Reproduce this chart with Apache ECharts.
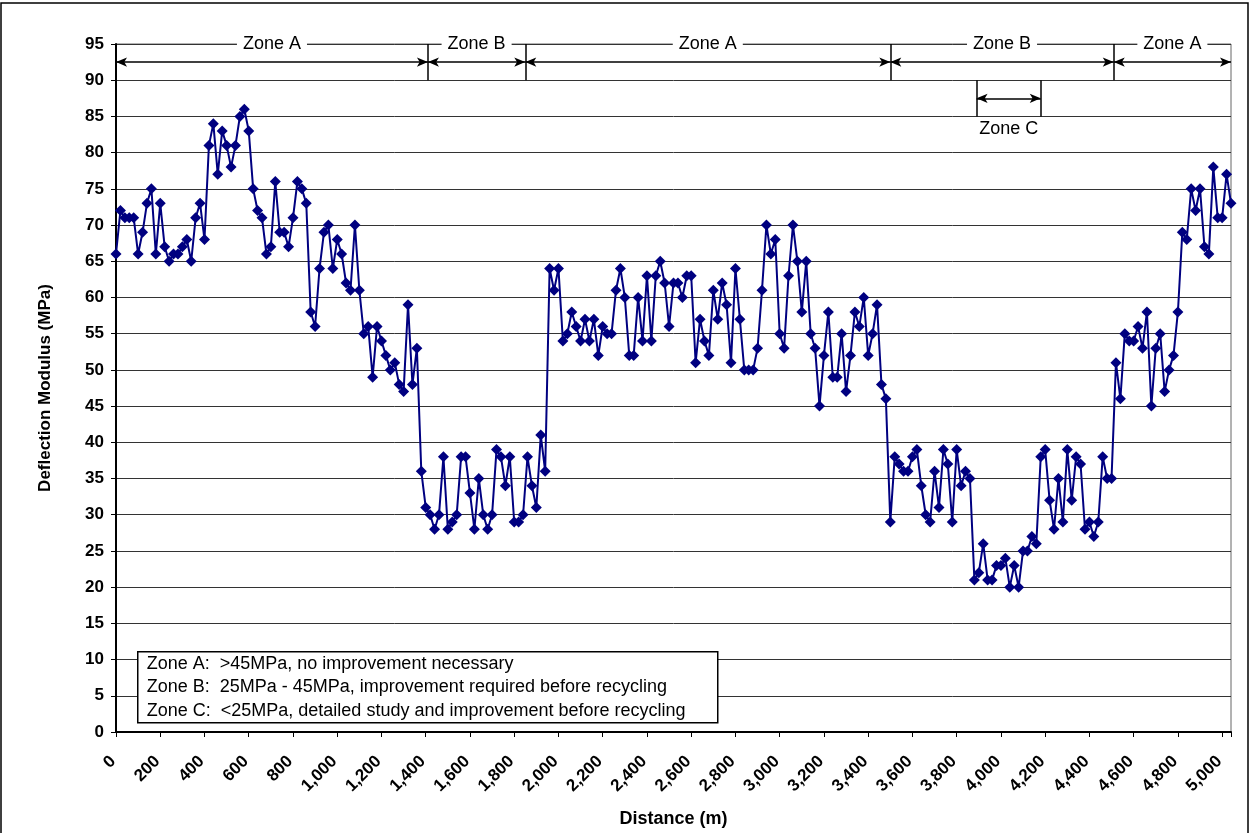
<!DOCTYPE html>
<html>
<head>
<meta charset="utf-8">
<script src="https://cdn.jsdelivr.net/npm/echarts@6/dist/echarts.min.js"></script>
<style>
  html, body { margin: 0; padding: 0; background: #fff; }
  #chart { width: 1250px; height: 833px; }
</style>
</head>
<body>
<div id="chart"></div>
<script>
// readings every 20 m along the road
const stepM = 20;
const modulus = [
  66, 72, 71, 71, 71, 66, 69, 73, 75, 66, 73, 67, 65, 66, 66, 67, 68, 65, 71, 73,
  68, 81, 84, 77, 83, 81, 78, 81, 85, 86, 83, 75, 72, 71, 66, 67, 76, 69, 69, 67,
  71, 76, 75, 73, 58, 56, 64, 69, 70, 64, 68, 66, 62, 61, 70, 61, 55, 56, 49, 56,
  54, 52, 50, 51, 48, 47, 59, 48, 53, 36, 31, 30, 28, 30, 38, 28, 29, 30, 38, 38,
  33, 28, 35, 30, 28, 30, 39, 38, 34, 38, 29, 29, 30, 38, 34, 31, 41, 36, 64, 61,
  64, 54, 55, 58, 56, 54, 57, 54, 57, 52, 56, 55, 55, 61, 64, 60, 52, 52, 60, 54,
  63, 54, 63, 65, 62, 56, 62, 62, 60, 63, 63, 51, 57, 54, 52, 61, 57, 62, 59, 51,
  64, 57, 50, 50, 50, 53, 61, 70, 66, 68, 55, 53, 63, 70, 65, 58, 65, 55, 53, 45,
  52, 58, 49, 49, 55, 47, 52, 58, 56, 60, 52, 55, 59, 48, 46, 29, 38, 37, 36, 36,
  38, 39, 34, 30, 29, 36, 31, 39, 37, 29, 39, 34, 36, 35, 21, 22, 26, 21, 21, 23,
  23, 24, 20, 23, 20, 25, 25, 27, 26, 38, 39, 32, 28, 35, 29, 39, 32, 38, 37, 28,
  29, 27, 29, 38, 35, 35, 51, 46, 55, 54, 54, 56, 53, 58, 45, 53, 55, 47, 50, 52,
  58, 69, 68, 75, 72, 75, 67, 66, 78, 71, 71, 77, 73
];

// zone brackets along the top of the plot
const zoneBounds = [0, 1410, 1850, 3500, 4510, 5040];
const zoneNames = ['Zone A', 'Zone B', 'Zone A', 'Zone B', 'Zone A'];
const zoneC = [3890, 4180];

const legendLines = [
  'Zone A:  >45MPa, no improvement necessary',
  'Zone B:  25MPa - 45MPa, improvement required before recycling',
  'Zone C:  <25MPa, detailed study and improvement before recycling'
];

const points = modulus.map((v, i) => [i * stepM, v]);

const noSym = c => ({ coord: c, symbol: 'none' });
const arrow = c => ({ coord: c, symbol: 'arrow' });

const bracketLines = [];
zoneBounds.slice(1, -1).forEach(b => bracketLines.push([noSym([b, 90]), noSym([b, 95])]));
for (let i = 0; i < zoneNames.length; i++) {
  bracketLines.push([arrow([zoneBounds[i], 92.5]), arrow([zoneBounds[i + 1], 92.5])]);
}
zoneC.forEach(b => bracketLines.push([noSym([b, 85]), noSym([b, 90])]));
bracketLines.push([arrow([zoneC[0], 87.5]), arrow([zoneC[1], 87.5])]);

const zoneLabels = zoneNames.map((n, i) => ({
  name: n,
  coord: [(zoneBounds[i] + zoneBounds[i + 1]) / 2, 95],
  label: { backgroundColor: '#fff', padding: [0, 6] }
}));
zoneLabels.push({ name: 'Zone C', coord: [(zoneC[0] + zoneC[1]) / 2, 83.3] });

const font = 'Liberation Sans, Arial, sans-serif';

const chart = echarts.init(document.getElementById('chart'));
chart.setOption({
  animation: false,
  grid: {
    left: 116, right: 19, top: 44, bottom: 98,
    show: true, borderColor: '#666', borderWidth: 1
  },
  xAxis: {
    type: 'value',
    min: 0, max: 5040, interval: 200,
    name: 'Distance (m)',
    nameLocation: 'middle',
    nameGap: 78,
    nameTextStyle: { fontFamily: font, fontWeight: 'bold', fontSize: 18, color: '#000' },
    axisLine: { lineStyle: { color: '#000', width: 2 } },
    axisTick: { length: 5, lineStyle: { color: '#000', width: 1 } },
    axisLabel: {
      rotate: 45, margin: 24, padding: [0, 4, 0, 0],
      fontFamily: font, fontWeight: 'bold', fontSize: 17, color: '#000',
      formatter: v => (v % 200 === 0 ? v.toLocaleString('en-US') : '')
    },
    splitLine: { show: false }
  },
  yAxis: {
    type: 'value',
    min: 0, max: 95, interval: 5,
    name: 'Deflection Modulus (MPa)',
    nameLocation: 'middle',
    nameGap: 62,
    nameTextStyle: { fontFamily: font, fontWeight: 'bold', fontSize: 17, color: '#000' },
    axisLine: { show: true, lineStyle: { color: '#000', width: 2 } },
    axisTick: { show: true, length: 5, lineStyle: { color: '#000', width: 1 } },
    axisLabel: { margin: 12, fontFamily: font, fontWeight: 'bold', fontSize: 17, color: '#000' },
    splitLine: { lineStyle: { color: '#333', width: 1 } }
  },
  series: [{
    type: 'line',
    data: points,
    symbol: 'diamond',
    symbolSize: 11,
    showAllSymbol: true,
    lineStyle: { color: '#000080', width: 2 },
    itemStyle: { color: '#000080' },
    markLine: {
      silent: true,
      animation: false,
      symbolSize: [7, 11],
      label: { show: false },
      lineStyle: { color: '#000', width: 1.5, type: 'solid' },
      emphasis: { disabled: true },
      data: bracketLines
    },
    markPoint: {
      silent: true,
      symbol: 'rect',
      symbolSize: 0,
      label: {
        show: true, position: 'inside', formatter: '{b}',
        fontFamily: font, fontSize: 18, color: '#000'
      },
      data: zoneLabels
    }
  }],
  graphic: [
    {
      type: 'rect', silent: true, z: 100,
      shape: { x: 1, y: 3, width: 1247, height: 860 },
      style: { fill: 'none', stroke: '#000', lineWidth: 1.5 }
    },
    {
      type: 'group', left: 137, top: 651, silent: true, z: 100,
      children: [
        {
          type: 'rect', z: 100,
          shape: { x: 0, y: 0, width: 580, height: 71 },
          style: { fill: '#fff', stroke: '#000', lineWidth: 1.5 }
        }
      ].concat(legendLines.map((t, i) => ({
        type: 'text', z: 101,
        style: {
          x: 9, y: 12 + i * 23.5, text: t,
          font: '18px ' + font, fill: '#000', verticalAlign: 'middle'
        }
      })))
    }
  ]
});
</script>
</body>
</html>
